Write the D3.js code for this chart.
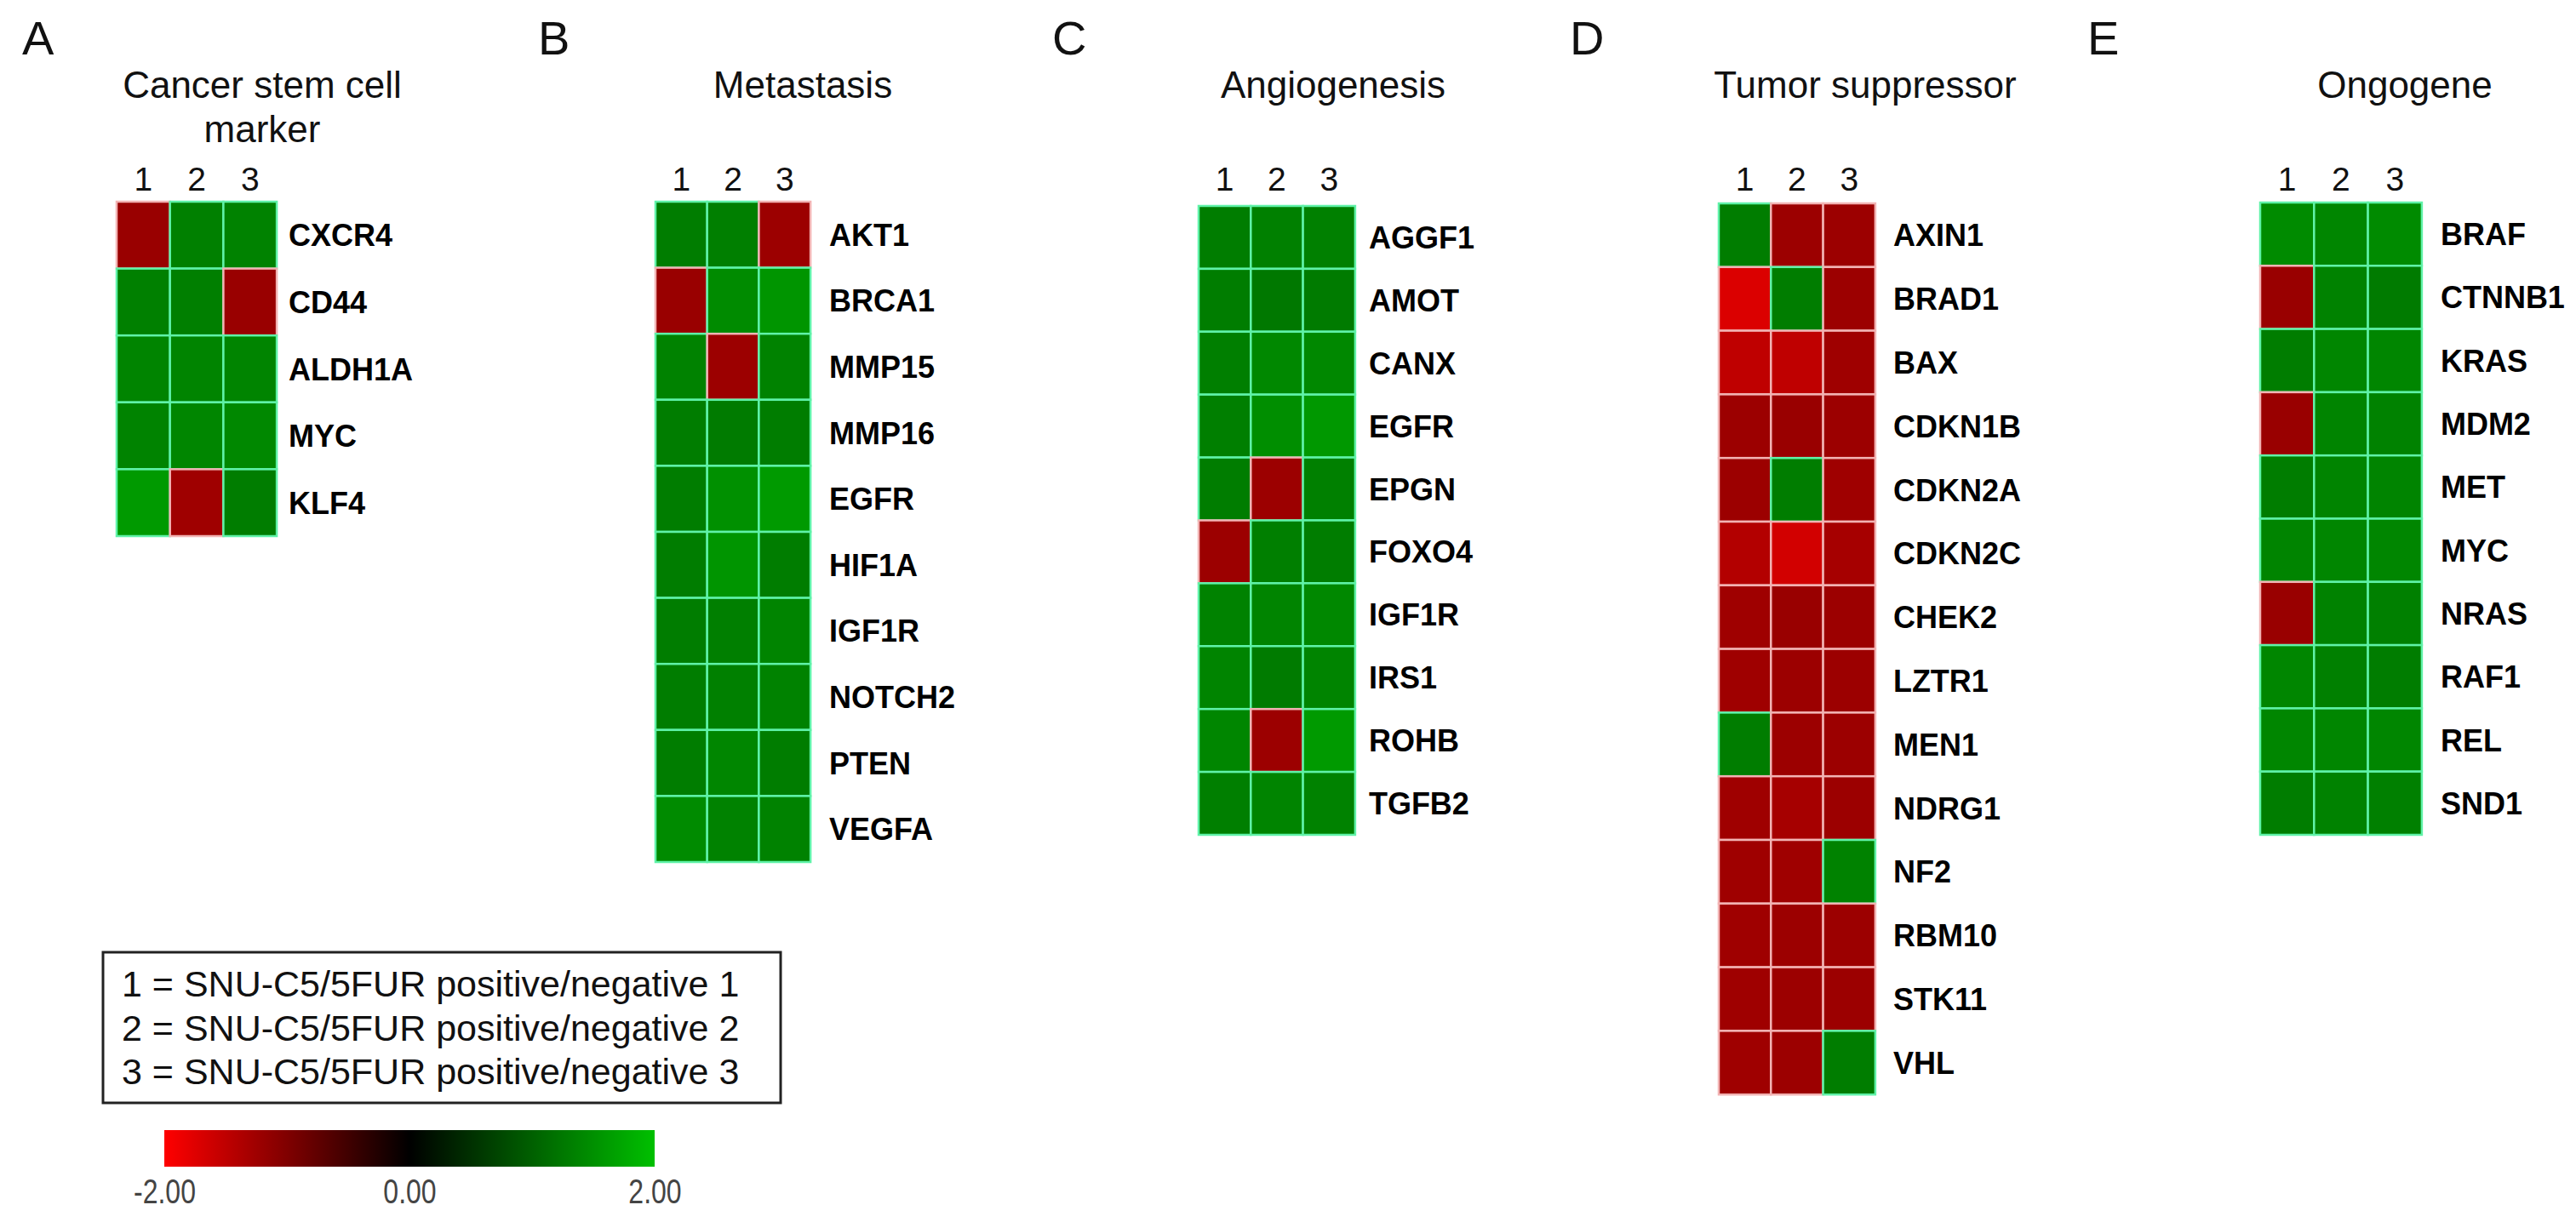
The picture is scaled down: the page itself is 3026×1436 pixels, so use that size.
<!DOCTYPE html>
<html>
<head>
<meta charset="utf-8">
<script src="https://cdn.jsdelivr.net/npm/d3@7"></script>
<style>
  body { margin: 0; background: #fff; }
  text { font-family: "Liberation Sans", Arial, sans-serif; }
</style>
</head>
<body>
<div id="chart"></div>
<script>
// Data (log-ratio values, -2..2)
var columns = ["1", "2", "3"];
var letters = ["A", "B", "C", "D", "E"];
var titles = [["Cancer stem cell", "marker"], ["Metastasis"], ["Angiogenesis"], ["Tumor suppressor"], ["Ongogene"]];

var genesA = ["CXCR4", "CD44", "ALDH1A", "MYC", "KLF4"];
var valuesA = [
  [-1.2, 1.33, 1.35],
  [1.33, 1.32, -1.2],
  [1.38, 1.38, 1.38],
  [1.36, 1.4, 1.42],
  [1.6, -1.25, 1.3]
];

var genesB = ["AKT1", "BRCA1", "MMP15", "MMP16", "EGFR", "HIF1A", "IGF1R", "NOTCH2", "PTEN", "VEGFA"];
var valuesB = [
  [1.3, 1.32, -1.22],
  [-1.2, 1.45, 1.55],
  [1.35, -1.22, 1.35],
  [1.3, 1.28, 1.3],
  [1.3, 1.5, 1.6],
  [1.3, 1.55, 1.3],
  [1.3, 1.32, 1.38],
  [1.3, 1.33, 1.35],
  [1.3, 1.4, 1.3],
  [1.45, 1.35, 1.35]
];

var genesC = ["AGGF1", "AMOT", "CANX", "EGFR", "EPGN", "FOXO4", "IGF1R", "IRS1", "ROHB", "TGFB2"];
var valuesC = [
  [1.3, 1.33, 1.33],
  [1.3, 1.25, 1.28],
  [1.32, 1.42, 1.42],
  [1.32, 1.48, 1.58],
  [1.3, -1.22, 1.33],
  [-1.22, 1.32, 1.3],
  [1.35, 1.38, 1.42],
  [1.38, 1.28, 1.38],
  [1.4, -1.22, 1.6],
  [1.32, 1.38, 1.35]
];

var genesD = ["AXIN1", "BRAD1", "BAX", "CDKN1B", "CDKN2A", "CDKN2C", "CHEK2", "LZTR1", "MEN1", "NDRG1", "NF2", "RBM10", "STK11", "VHL"];
var valuesD = [
  [1.3, -1.22, -1.22],
  [-1.72, 1.3, -1.22],
  [-1.5, -1.5, -1.25],
  [-1.22, -1.2, -1.22],
  [-1.22, 1.3, -1.25],
  [-1.4, -1.65, -1.3],
  [-1.25, -1.2, -1.22],
  [-1.25, -1.22, -1.22],
  [1.3, -1.22, -1.22],
  [-1.25, -1.3, -1.22],
  [-1.25, -1.25, 1.35],
  [-1.25, -1.22, -1.22],
  [-1.25, -1.22, -1.22],
  [-1.25, -1.22, 1.3]
];

var genesE = ["BRAF", "CTNNB1", "KRAS", "MDM2", "MET", "MYC", "NRAS", "RAF1", "REL", "SND1"];
var valuesE = [
  [1.45, 1.4, 1.45],
  [-1.2, 1.35, 1.28],
  [1.3, 1.4, 1.4],
  [-1.2, 1.38, 1.35],
  [1.3, 1.38, 1.38],
  [1.38, 1.4, 1.4],
  [-1.2, 1.35, 1.33],
  [1.4, 1.33, 1.3],
  [1.4, 1.4, 1.4],
  [1.3, 1.35, 1.33]
];

var legendLines = [
  "1 = SNU-C5/5FUR positive/negative 1",
  "2 = SNU-C5/5FUR positive/negative 2",
  "3 = SNU-C5/5FUR positive/negative 3"
];
var colorTicks = [-2, 0, 2];

var panels = [
  { genes: genesA, values: valuesA },
  { genes: genesB, values: valuesB },
  { genes: genesC, values: valuesC },
  { genes: genesD, values: valuesD },
  { genes: genesE, values: valuesE }
];

// layout (pixels)
var layout = [
  { letterX: 26,   left: 137,  top: 237, colW: 62.7, rowH: 78.6, gap: 14, titleX: 308 },
  { letterX: 632,  left: 770,  top: 237, colW: 60.7, rowH: 77.6, gap: 22, titleX: 943 },
  { letterX: 1236, left: 1408, top: 242, colW: 61.3, rowH: 73.9, gap: 16, titleX: 1566 },
  { letterX: 1844, left: 2019, top: 239, colW: 61.3, rowH: 74.8, gap: 21, titleX: 2191 },
  { letterX: 2452, left: 2655, top: 238, colW: 63.3, rowH: 74.3, gap: 22, titleX: 2825 }
];

var W = 3026, H = 1436;

var color = d3.scaleLinear()
  .domain([-2, 0, 2])
  .range(["#ff0000", "#000000", "#00c000"])
  .clamp(true);

var svg = d3.select("#chart")
  .append("svg")
  .attr("width", W)
  .attr("height", H)
  .style("display", "block");

svg.append("rect").attr("width", W).attr("height", H).attr("fill", "#fff");

panels.forEach(function(p, i) {
  var L = layout[i];
  var g = svg.append("g");

  var x = d3.scaleBand()
    .domain(columns)
    .range([L.left, L.left + columns.length * L.colW]);
  var y = d3.scaleBand()
    .domain(p.genes)
    .range([L.top, L.top + p.genes.length * L.rowH]);

  // panel letter
  g.append("text")
    .attr("x", L.letterX)
    .attr("y", 64)
    .attr("font-size", 56)
    .attr("fill", "#111")
    .text(letters[i]);

  // title
  g.selectAll(".title")
    .data(titles[i])
    .enter()
    .append("text")
    .attr("x", L.titleX)
    .attr("y", function(d, k) { return 115 + k * 52; })
    .attr("text-anchor", "middle")
    .attr("font-size", 44)
    .attr("fill", "#111")
    .text(function(d) { return d; });

  // column numbers
  g.selectAll(".col")
    .data(columns)
    .enter()
    .append("text")
    .attr("x", function(d) { return x(d) + x.bandwidth() / 2; })
    .attr("y", 224)
    .attr("text-anchor", "middle")
    .attr("font-size", 39)
    .attr("fill", "#111")
    .text(function(d) { return d; });

  // cells
  var cells = [];
  p.genes.forEach(function(gene, r) {
    columns.forEach(function(c, k) {
      cells.push({ gene: gene, col: c, v: p.values[r][k] });
    });
  });

  g.selectAll(".cell")
    .data(cells)
    .enter()
    .append("rect")
    .attr("x", function(d) { return x(d.col); })
    .attr("y", function(d) { return y(d.gene); })
    .attr("width", x.bandwidth())
    .attr("height", y.bandwidth())
    .attr("fill", function(d) { return color(d.v); })
    .attr("stroke", function(d) { return d.v < 0 ? "#f2b3b3" : "#5ff2a8"; })
    .attr("stroke-width", 2.5);

  // gene labels
  g.selectAll(".gene")
    .data(p.genes)
    .enter()
    .append("text")
    .attr("x", x.range()[1] + L.gap)
    .attr("y", function(d) { return y(d) + y.bandwidth() / 2 + 13; })
    .attr("font-size", 36)
    .attr("font-weight", "bold")
    .attr("fill", "#000")
    .text(function(d) { return d; });
});

// legend box
var legend = svg.append("g");
legend.append("rect")
  .attr("x", 121)
  .attr("y", 1119)
  .attr("width", 796)
  .attr("height", 177)
  .attr("fill", "#fff")
  .attr("stroke", "#222")
  .attr("stroke-width", 3);

legend.selectAll("text")
  .data(legendLines)
  .enter()
  .append("text")
  .attr("x", 143)
  .attr("y", function(d, k) { return 1171 + k * 51.5; })
  .attr("font-size", 43)
  .attr("fill", "#111")
  .text(function(d) { return d; });

// colour bar
var barX = d3.scaleLinear().domain([-2, 2]).range([193, 769]);
var defs = svg.append("defs");
var grad = defs.append("linearGradient")
  .attr("id", "cbar")
  .attr("x1", "0%").attr("x2", "100%")
  .attr("y1", "0%").attr("y2", "0%");
d3.range(-2, 2.01, 0.25).forEach(function(v) {
  grad.append("stop")
    .attr("offset", ((v + 2) / 4 * 100) + "%")
    .attr("stop-color", color(v));
});

svg.append("rect")
  .attr("x", barX(-2))
  .attr("y", 1328)
  .attr("width", barX(2) - barX(-2))
  .attr("height", 43)
  .attr("fill", "url(#cbar)");

var axis = d3.axisBottom(barX)
  .tickValues(colorTicks)
  .tickFormat(function(d) { return d.toFixed(2); })
  .tickSize(0);

var ax = svg.append("g")
  .attr("transform", "translate(0,1371)")
  .call(axis);
ax.select(".domain").remove();
ax.selectAll("text")
  .attr("dy", null)
  .attr("y", 43)
  .attr("font-size", 40)
  .attr("fill", "#444")
  .attr("font-family", "'Liberation Sans', Arial, sans-serif")
  .attr("transform", "scale(0.8,1)");
</script>
</body>
</html>
